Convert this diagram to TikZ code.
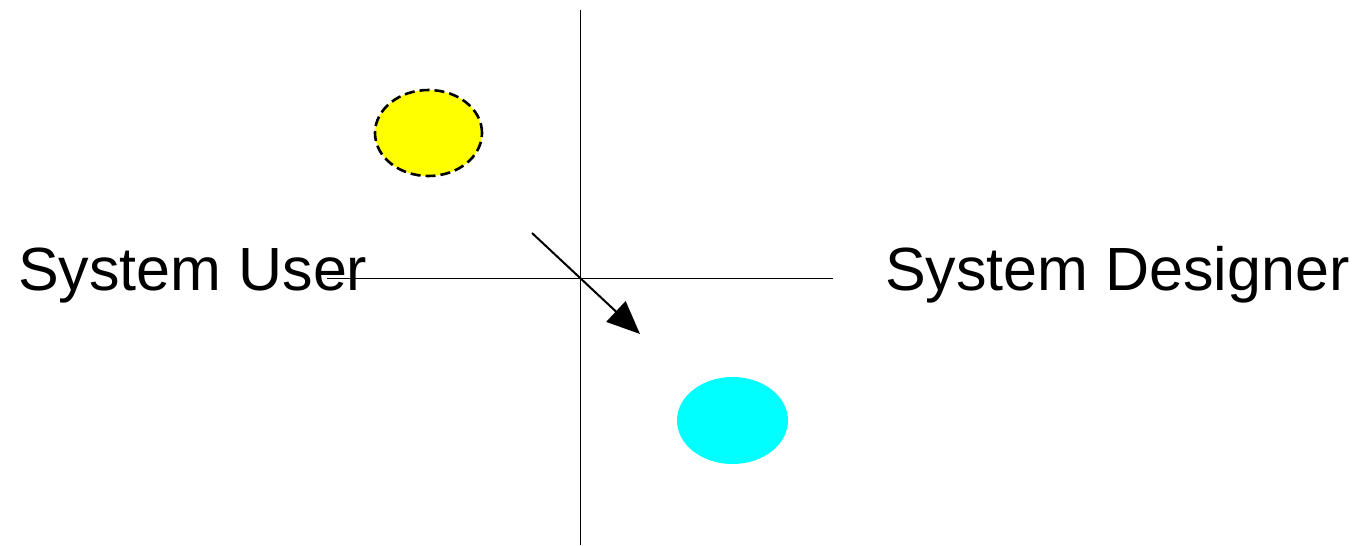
\documentclass[tikz,border=0pt]{standalone}
\usepackage{fontspec}
\setmainfont{Liberation Sans}
\usetikzlibrary{arrows.meta,shapes.geometric}
\definecolor{cyanfill}{HTML}{00FFFF}
\definecolor{yellowfill}{HTML}{FFFF00}
\begin{document}
\begin{tikzpicture}[x=1pt,y=-1pt,
  axis/.style={draw=black,line width=0.9pt},
  lbl/.style={font=\fontsize{61}{73}\selectfont,inner sep=0pt,anchor=base west},
]
\useasboundingbox (0,0) rectangle (1363,546);
\coordinate (vt) at (580,10);
\coordinate (vb) at (580,545);
\coordinate (hl) at (327,278);
\coordinate (hr) at (833,278);
\draw[axis] (vt) -- (vb);
\draw[axis] (hl) -- (hr);
\node[lbl] (user) at (18,290) {System User};
\node[lbl] (designer) at (885,290) {System Designer};
\node[ellipse,fill=yellowfill,draw=black,line width=2.6pt,dash pattern=on 10pt off 5pt,minimum width=107pt,minimum height=86pt,inner sep=0pt] (y) at (428.5,133) {};
\node[ellipse,fill=cyanfill,minimum width=111pt,minimum height=87pt,inner sep=0pt] (c) at (732.5,420.5) {};
\coordinate (as) at (532,233);
\coordinate (ae) at (640,334);
\draw[line width=2pt,-{Triangle[length=33pt,width=28pt]}] (as) -- (ae);
\end{tikzpicture}
\end{document}
